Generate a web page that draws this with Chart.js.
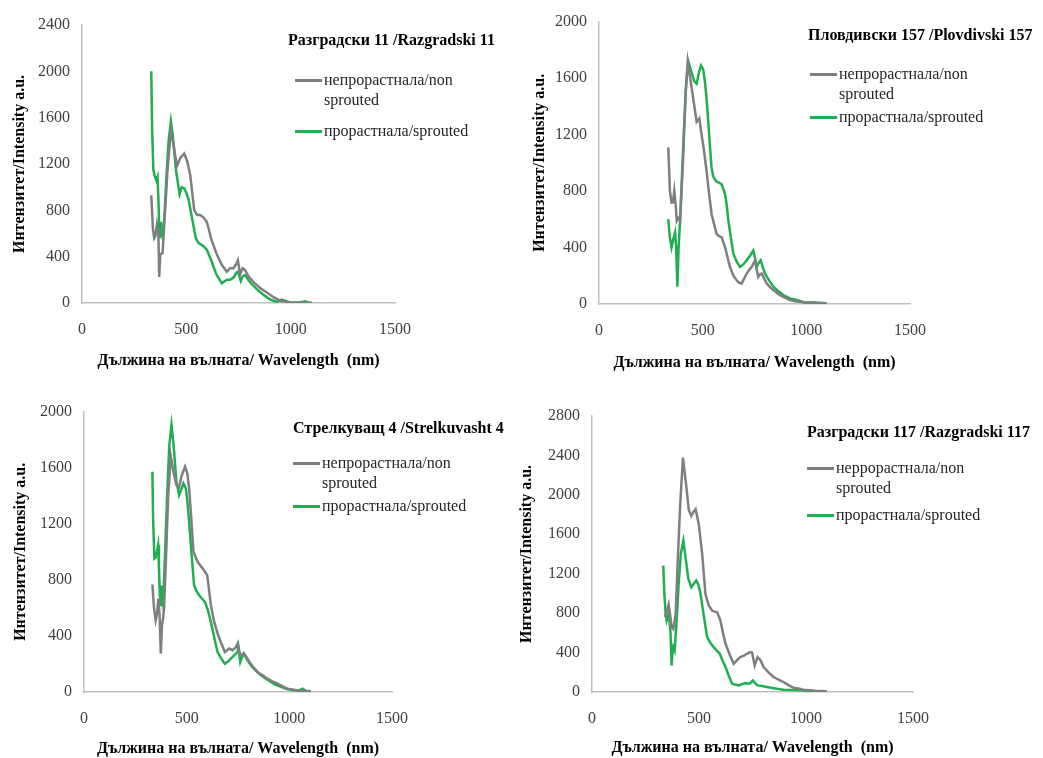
<!DOCTYPE html>
<html>
<head>
<meta charset="utf-8">
<script src="https://cdn.jsdelivr.net/npm/chart.js@4.4.1/dist/chart.umd.min.js"></script>
<style>
  body { margin: 0; background: #fff; }
  #wrap { position: relative; width: 1043px; height: 758px; overflow: hidden; font-family: "Liberation Serif", "Times New Roman", serif; }
  canvas { position: absolute; }
  .ttl { position: absolute; font-weight: bold; font-size: 16px; line-height: 20px; color: #000; white-space: nowrap; }
  .lg { position: absolute; font-size: 16px; line-height: 20px; color: #262626; width: 150px; }
  .ln { position: absolute; height: 0; border-top: 3px solid; }
</style>
</head>
<body>
<div id="wrap"></div>
<script>
// ---- data ----
const titles = ["Разградски 11 /Razgradski 11", "Пловдивски 157 /Plovdivski 157",
                "Стрелкуващ 4 /Strelkuvasht 4", "Разградски 117 /Razgradski 117"];
const grayLabels = ["непрорастнала/non sprouted", "непрорастнала/non sprouted",
                    "непрорастнала/non sprouted", "неррорастнала/non sprouted"];
const greenLabel = "прорастнала/sprouted";
const yMax = [2400, 2000, 2000, 2800];
const xTitle = "Дължина на вълната/ Wavelength  (nm)";
const yTitle = "Интензитет/Intensity a.u.";

// panel 1 - Razgradski 11
const p1GrayX = [332, 340, 346, 352, 359, 366, 370, 375, 386, 395, 410, 426, 440, 455, 470, 490, 505, 519, 538, 552, 566, 582, 598, 606, 618, 630, 646, 670, 694, 710, 726, 740, 747, 758, 770, 779, 798, 822, 854, 886, 918, 949, 997, 1050, 1100];
const p1GrayY = [930, 640, 560, 580, 680, 600, 225, 420, 430, 700, 1150, 1490, 1350, 1180, 1250, 1290, 1220, 1100, 800, 760, 760, 740, 700, 650, 560, 500, 420, 330, 270, 300, 300, 340, 370, 250, 300, 290, 230, 180, 130, 90, 50, 20, 5, 3, 0];
const p1GreenX = [332, 336, 342, 348, 356, 362, 366, 372, 378, 382, 387, 395, 405, 415, 426, 435, 450, 468, 478, 490, 500, 510, 531, 545, 558, 582, 598, 617, 643, 670, 694, 710, 726, 740, 747, 761, 770, 782, 809, 838, 870, 902, 933, 957, 997, 1040, 1069, 1085, 1100];
const p1GreenY = [2000, 1500, 1150, 1100, 1060, 1090, 900, 560, 700, 600, 560, 750, 1100, 1400, 1570, 1450, 1150, 940, 1000, 990, 950, 900, 700, 560, 520, 490, 460, 380, 250, 170, 200, 200, 220, 260, 270, 190, 230, 240, 170, 120, 70, 30, 10, 30, 5, 5, 15, 5, 0];

// panel 2 - Plovdivski 157
const p2GrayX = [334, 342, 350, 357, 363, 370, 375, 382, 391, 405, 418, 428, 440, 455, 471, 484, 495, 507, 519, 531, 543, 556, 567, 580, 592, 608, 620, 632, 648, 664, 676, 688, 700, 712, 724, 736, 752, 760, 768, 776, 785, 797, 809, 825, 841, 857, 873, 897, 921, 945, 969, 1000, 1050, 1098];
const p2GrayY = [1109, 800, 718, 720, 800, 700, 590, 610, 590, 1000, 1500, 1717, 1600, 1450, 1291, 1315, 1197, 1080, 940, 780, 636, 560, 496, 480, 472, 402, 330, 262, 200, 168, 150, 145, 180, 215, 240, 262, 309, 250, 192, 210, 215, 180, 145, 120, 98, 80, 63, 45, 28, 20, 16, 8, 6, 5];
const p2GreenX = [334, 342, 350, 358, 367, 372, 378, 384, 391, 400, 410, 420, 431, 445, 458, 471, 482, 492, 503, 511, 519, 527, 535, 543, 552, 564, 578, 592, 608, 616, 624, 636, 648, 664, 680, 696, 712, 728, 744, 752, 760, 770, 780, 790, 801, 821, 841, 865, 889, 921, 953, 990, 1040, 1098];
const p2GreenY = [601, 470, 402, 460, 508, 400, 122, 400, 590, 900, 1250, 1550, 1717, 1650, 1580, 1560, 1640, 1689, 1660, 1572, 1450, 1291, 1120, 964, 900, 870, 860, 847, 777, 700, 590, 470, 356, 300, 262, 280, 309, 340, 379, 330, 262, 290, 309, 260, 215, 165, 122, 90, 63, 40, 28, 12, 10, 5];

// panel 3 - Strelkuvasht 4
const p3GrayX = [333, 341, 349, 356, 362, 368, 374, 380, 385, 390, 398, 410, 423, 437, 450, 463, 475, 492, 503, 512, 522, 533, 553, 578, 600, 618, 634, 650, 666, 686, 707, 723, 740, 748, 761, 780, 806, 825, 845, 870, 894, 918, 943, 967, 991, 1040, 1105];
const p3GrayY = [767, 600, 512, 560, 667, 550, 274, 480, 524, 600, 900, 1400, 1679, 1560, 1476, 1460, 1540, 1607, 1560, 1452, 1250, 1000, 929, 881, 833, 619, 500, 420, 357, 286, 310, 298, 320, 345, 262, 274, 214, 175, 143, 120, 95, 75, 60, 40, 24, 10, 5];
const p3GreenX = [333, 337, 343, 349, 355, 361, 365, 369, 375, 379, 383, 387, 395, 405, 415, 426, 437, 450, 463, 475, 484, 496, 504, 512, 524, 536, 548, 561, 575, 589, 604, 618, 634, 650, 668, 686, 700, 715, 730, 748, 752, 761, 770, 777, 795, 813, 838, 862, 886, 910, 935, 959, 990, 1024, 1045, 1064, 1080, 1105];
const p3GreenY = [1571, 1200, 952, 960, 1000, 1048, 900, 690, 620, 760, 650, 680, 1000, 1400, 1750, 1905, 1750, 1500, 1405, 1450, 1488, 1452, 1350, 1214, 980, 762, 720, 690, 665, 643, 580, 500, 390, 286, 240, 202, 215, 238, 260, 286, 321, 214, 250, 274, 230, 190, 150, 119, 95, 71, 50, 36, 20, 12, 10, 24, 8, 5];

// panel 4 - Razgradski 117
const p4GrayX = [340, 350, 358, 364, 372, 380, 391, 400, 412, 425, 440, 452, 464, 475, 484, 499, 515, 530, 545, 561, 573, 585, 600, 612, 624, 643, 662, 677, 693, 710, 724, 740, 748, 760, 774, 788, 802, 825, 848, 872, 895, 918, 941, 965, 988, 1040, 1097];
const p4GrayY = [760, 820, 887, 800, 660, 640, 793, 1300, 1900, 2378, 2100, 1850, 1787, 1830, 1855, 1703, 1400, 995, 880, 826, 815, 809, 725, 600, 489, 380, 287, 320, 354, 370, 388, 405, 400, 270, 354, 320, 253, 200, 152, 125, 101, 70, 44, 35, 24, 12, 7];
const p4GreenX = [333, 338, 344, 349, 354, 358, 362, 367, 372, 376, 380, 386, 395, 405, 415, 427, 438, 450, 464, 476, 487, 497, 507, 522, 538, 553, 569, 583, 597, 610, 624, 640, 655, 670, 686, 700, 717, 730, 740, 751, 762, 774, 795, 817, 856, 895, 934, 973, 1035, 1097];
const p4GreenY = [1282, 1000, 800, 725, 760, 793, 720, 600, 270, 400, 455, 420, 700, 1100, 1400, 1535, 1350, 1150, 1062, 1100, 1130, 1090, 995, 780, 556, 500, 455, 420, 388, 320, 253, 160, 84, 75, 67, 80, 91, 84, 90, 118, 90, 67, 60, 51, 35, 24, 20, 17, 10, 7];

const grayXs = [p1GrayX, p2GrayX, p3GrayX, p4GrayX];
const grayYs = [p1GrayY, p2GrayY, p3GrayY, p4GrayY];
const greenXs = [p1GreenX, p2GreenX, p3GreenX, p4GreenX];
const greenYs = [p1GreenY, p2GreenY, p3GreenY, p4GreenY];

// ---- layout ----
const GRAY = "#7f7f7f", GREEN = "#1fae50";
const FONT = "'Liberation Serif', 'Times New Roman', serif";
const panels = [
  { left: 0,   top: 0,   w: 540, h: 385, yW: 82, padR: 145, padT: 25, xH: 82, xtB: 15, ytT: 10,
    tx: 288, ty: 40, lx: 295, l1: 80, l2: 131 },
  { left: 520, top: 0,   w: 523, h: 385, yW: 79, padR: 133, padT: 18, xH: 81, xtB: 13, ytT: 10,
    tx: 808, ty: 35, lx: 810, l1: 74, l2: 117 },
  { left: 0,   top: 390, w: 520, h: 368, yW: 84, padR: 128, padT: 21, xH: 66, xtB: 0, ytT: 11,
    tx: 293, ty: 428, lx: 293, l1: 463, l2: 506 },
  { left: 515, top: 390, w: 528, h: 368, yW: 77, padR: 130, padT: 26, xH: 66, xtB: 1, ytT: 2,
    tx: 807, ty: 432, lx: 807, l1: 468, l2: 515 }
];

const wrap = document.getElementById("wrap");
function pts(xs, ys) { return xs.map((x, i) => ({ x: x, y: ys[i] })); }
function addDiv(cls, css, text) {
  const d = document.createElement("div");
  d.className = cls;
  Object.assign(d.style, css);
  if (text) d.textContent = text;
  wrap.appendChild(d);
  return d;
}

panels.forEach((p, i) => {
  const cv = document.createElement("canvas");
  cv.width = p.w; cv.height = p.h;
  cv.style.left = p.left + "px"; cv.style.top = p.top + "px";
  wrap.appendChild(cv);

  new Chart(cv.getContext("2d"), {
    type: "line",
    data: {
      datasets: [
        { label: grayLabels[i], data: pts(grayXs[i], grayYs[i]), borderColor: GRAY, borderWidth: 2.5, pointRadius: 0, tension: 0 },
        { label: greenLabel, data: pts(greenXs[i], greenYs[i]), borderColor: GREEN, borderWidth: 2.5, pointRadius: 0, tension: 0 }
      ]
    },
    options: {
      responsive: false,
      animation: false,
      layout: { padding: { left: 0, right: p.padR, top: p.padT, bottom: 0 } },
      plugins: { legend: { display: false }, tooltip: { enabled: false } },
      scales: {
        x: {
          type: "linear", min: 0, max: 1500,
          ticks: { stepSize: 500, padding: 17, color: "#404040", font: { family: FONT, size: 16 }, callback: v => String(v) },
          grid: { display: false, drawTicks: false },
          border: { color: "#bfbfbf", width: 1.5 },
          title: { display: true, text: xTitle, color: "#000", font: { family: FONT, size: 16, weight: "bold" }, padding: { top: 0, bottom: p.xtB } },
          afterFit: s => { s.height = p.xH; }
        },
        y: {
          min: 0, max: yMax[i],
          ticks: { stepSize: 400, padding: 12, color: "#404040", font: { family: FONT, size: 16 }, callback: v => String(v) },
          grid: { display: false, drawTicks: false },
          border: { color: "#bfbfbf", width: 1.5 },
          title: { display: true, text: yTitle, color: "#000", font: { family: FONT, size: 16, weight: "bold" }, padding: { top: p.ytT, bottom: 0 } },
          afterFit: s => { s.width = p.yW; }
        }
      }
    }
  });

  // panel title and legend
  addDiv("ttl", { left: p.tx + "px", top: (p.ty - 10) + "px" }, titles[i]);
  addDiv("ln", { left: p.lx + "px", top: (p.l1 - 1) + "px", width: "27px", borderColor: GRAY });
  addDiv("lg", { left: (p.lx + 29) + "px", top: (p.l1 - 10) + "px" }, grayLabels[i]);
  addDiv("ln", { left: p.lx + "px", top: (p.l2 - 1) + "px", width: "27px", borderColor: GREEN });
  addDiv("lg", { left: (p.lx + 29) + "px", top: (p.l2 - 10) + "px", width: "200px" }, greenLabel);
});
</script>
</body>
</html>
